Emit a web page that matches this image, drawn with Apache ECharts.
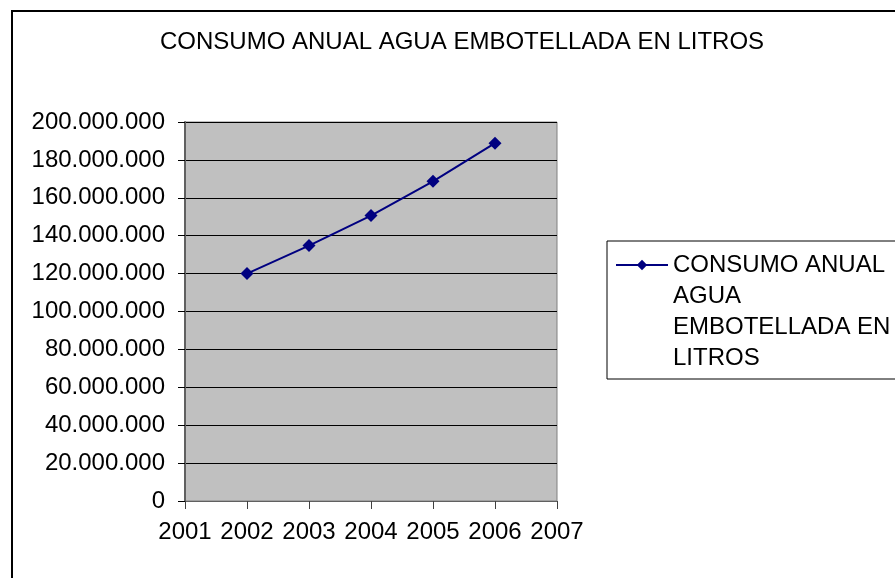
<!DOCTYPE html>
<html>
<head>
<meta charset="utf-8">
<script src="https://cdn.jsdelivr.net/npm/echarts@6/dist/echarts.min.js"></script>
<style>
  html, body { margin: 0; padding: 0; background: #fff; }
  #main { width: 895px; height: 578px; }
</style>
</head>
<body>
<div id="main"></div>
<script>
// datos
var years = [2002, 2003, 2004, 2005, 2006];
var litros = [120000000, 134800000, 150600000, 168700000, 188800000];
var serieName = 'CONSUMO ANUAL AGUA EMBOTELLADA EN LITROS';
// la leyenda parte el nombre en cuatro lineas
var legendLines = ['CONSUMO ANUAL', 'AGUA', 'EMBOTELLADA EN', 'LITROS'];

var font = 'Liberation Sans, Arial, sans-serif';

// 200000000 -> 200.000.000
function puntos(v) {
    return String(Math.round(v)).replace(/\B(?=(\d{3})+(?!\d))/g, '.');
}

var myChart = echarts.init(document.getElementById('main'));
myChart.setOption({
    animation: false,
    backgroundColor: '#fff',
    title: {
        text: serieName,
        left: 160,
        top: 30,
        padding: 0,
        textStyle: { fontFamily: font, fontSize: 24, fontWeight: 'normal', color: '#000' }
    },
    graphic: [{
        type: 'rect',
        shape: { x: 12, y: 11, width: 900, height: 600 },
        style: { fill: 'none', stroke: '#000', lineWidth: 2 },
        z: -1
    }, {
        // resto del texto de la leyenda, bajo la primera linea
        type: 'text',
        left: 673,
        top: 280.5,
        z: 100,
        style: {
            text: legendLines.slice(1).join('\n'),
            font: '24px ' + font,
            lineHeight: 31,
            fill: '#000'
        }
    }],
    legend: {
        left: 607,
        top: 241,
        orient: 'vertical',
        padding: [8.5, 20, 98.5, 8],
        backgroundColor: '#fff',
        borderColor: '#000',
        borderWidth: 1,
        borderRadius: 0,
        itemWidth: 52,
        itemHeight: 13,
        itemGap: 0,
        data: [serieName],
        formatter: function () { return legendLines[0]; },
        textStyle: {
            fontFamily: font,
            fontSize: 24,
            lineHeight: 31,
            color: '#000'
        }
    },
    grid: {
        left: 185,
        right: 338,
        top: 122,
        bottom: 77,
        show: true,
        backgroundColor: '#c0c0c0',
        borderColor: '#808080',
        borderWidth: 1,
        containLabel: false
    },
    xAxis: {
        type: 'value',
        min: 2001,
        max: 2007,
        interval: 1,
        splitLine: { show: false },
        axisLine: { show: true, onZero: false, lineStyle: { color: '#606060', width: 1 } },
        axisTick: { show: true, length: 8, lineStyle: { color: '#404040' } },
        axisLabel: {
            margin: 19,
            fontFamily: font,
            fontSize: 24,
            color: '#000',
            formatter: function (v) { return String(v); }
        }
    },
    yAxis: {
        type: 'value',
        min: 0,
        max: 200000000,
        interval: 20000000,
        splitLine: { show: true, lineStyle: { color: '#000', width: 1 } },
        axisLine: { show: true, lineStyle: { color: '#606060', width: 2 } },
        axisTick: { show: true, length: 7, lineStyle: { color: '#000' } },
        axisLabel: {
            margin: 20,
            fontFamily: font,
            fontSize: 24,
            color: '#000',
            formatter: puntos
        }
    },
    series: [{
        name: serieName,
        type: 'line',
        data: years.map(function (y, i) { return [y, litros[i]]; }),
        symbol: 'diamond',
        symbolSize: 13,
        lineStyle: { color: '#000080', width: 2 },
        itemStyle: { color: '#000080' }
    }]
});
</script>
</body>
</html>
